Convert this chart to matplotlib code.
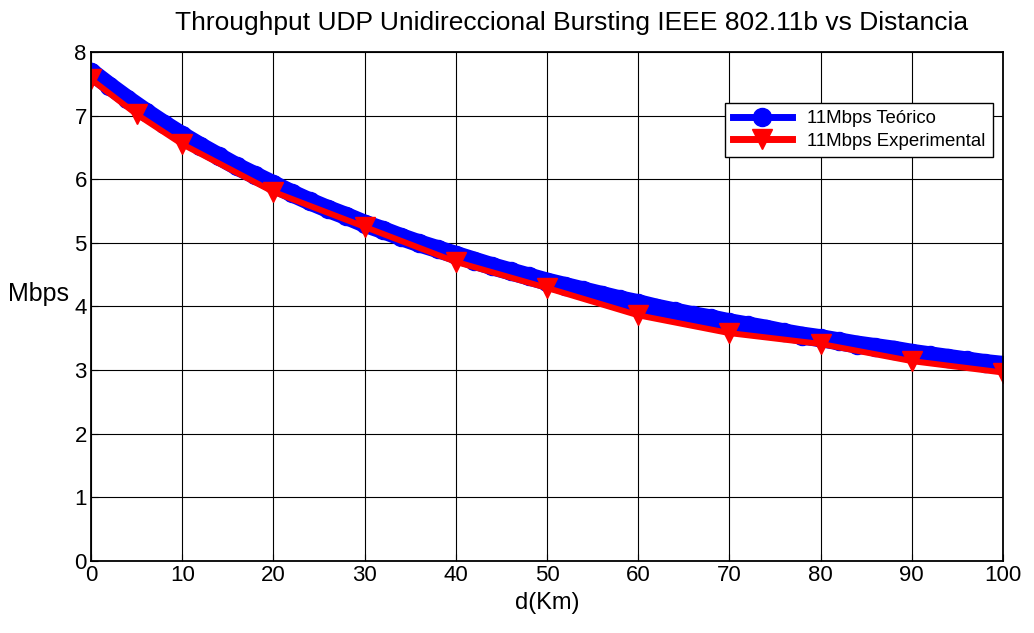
import numpy as np
import matplotlib
matplotlib.use('Agg')
import matplotlib.pyplot as plt
from matplotlib.lines import Line2D

plt.rcParams['font.family'] = ['Liberation Sans', 'DejaVu Sans']

# curva teorica (cada 2 km)
dist_teo = [0, 2, 4, 6, 8, 10, 12, 14, 16, 18, 20, 22, 24, 26, 28, 30, 32, 34, 36, 38,
            40, 42, 44, 46, 48, 50, 52, 54, 56, 58, 60, 62, 64, 66, 68, 70, 72, 74, 76, 78,
            80, 82, 84, 86, 88, 90, 92, 94, 96, 98, 100]
thr_teo = [7.69, 7.47, 7.26, 7.06, 6.87, 6.69, 6.52, 6.36, 6.20, 6.06, 5.92, 5.78, 5.65,
           5.53, 5.42, 5.30, 5.20, 5.09, 4.99, 4.90, 4.81, 4.72, 4.63, 4.55, 4.47, 4.39,
           4.32, 4.25, 4.18, 4.11, 4.05, 3.98, 3.92, 3.86, 3.81, 3.75, 3.70, 3.65, 3.59,
           3.54, 3.50, 3.45, 3.40, 3.36, 3.32, 3.27, 3.23, 3.19, 3.15, 3.11, 3.08]

# medidas experimentales
dist_exp = [0, 5, 10, 20, 30, 40, 50, 60, 70, 80, 90, 100]
thr_exp = [7.57, 7.02, 6.55, 5.80, 5.25, 4.70, 4.29, 3.86, 3.58, 3.41, 3.14, 2.96]

fig, ax = plt.subplots(figsize=(10.34, 6.33), dpi=100)
fig.subplots_adjust(left=0.088, right=0.970, top=0.918, bottom=0.114)

ax.plot(dist_teo, thr_teo, color='blue', linewidth=13, marker='o', markersize=13,
        solid_capstyle='round', solid_joinstyle='round')
ax.plot(dist_exp, thr_exp, color='red', linewidth=4.3, marker='v', markersize=15)

ax.set_xlim(0, 100)
ax.set_ylim(0, 8)
ax.set_xticks(np.arange(0, 101, 10))
ax.set_yticks(np.arange(0, 9, 1))
ax.grid(True, color='black', linewidth=0.8, linestyle='-')
ax.set_axisbelow(True)
ax.tick_params(direction='in', labelsize=16, length=5, color='black', pad=3)
for s in ax.spines.values():
    s.set_linewidth(1.3)

ax.set_title('Throughput UDP Unidireccional Bursting IEEE 802.11b vs Distancia',
             fontsize=19, pad=16, x=0.527)
ax.set_xlabel('d(Km)', fontsize=17, labelpad=4)
ax.set_ylabel('Mbps', fontsize=18, rotation=0, labelpad=26)

handles = [Line2D([], [], color='blue', linewidth=5, marker='o', markersize=13),
           Line2D([], [], color='red', linewidth=5, marker='v', markersize=14)]
leg = ax.legend(handles, ['11Mbps Teórico', '11Mbps Experimental'],
                loc='upper right', bbox_to_anchor=(0.989, 0.900), borderaxespad=0,
                fontsize=13.4, fancybox=False, edgecolor='black', framealpha=1,
                handlelength=3.2, labelspacing=0.3, borderpad=0.4)
leg.get_frame().set_linewidth(1.0)

fig.savefig('out.png', dpi=100)
